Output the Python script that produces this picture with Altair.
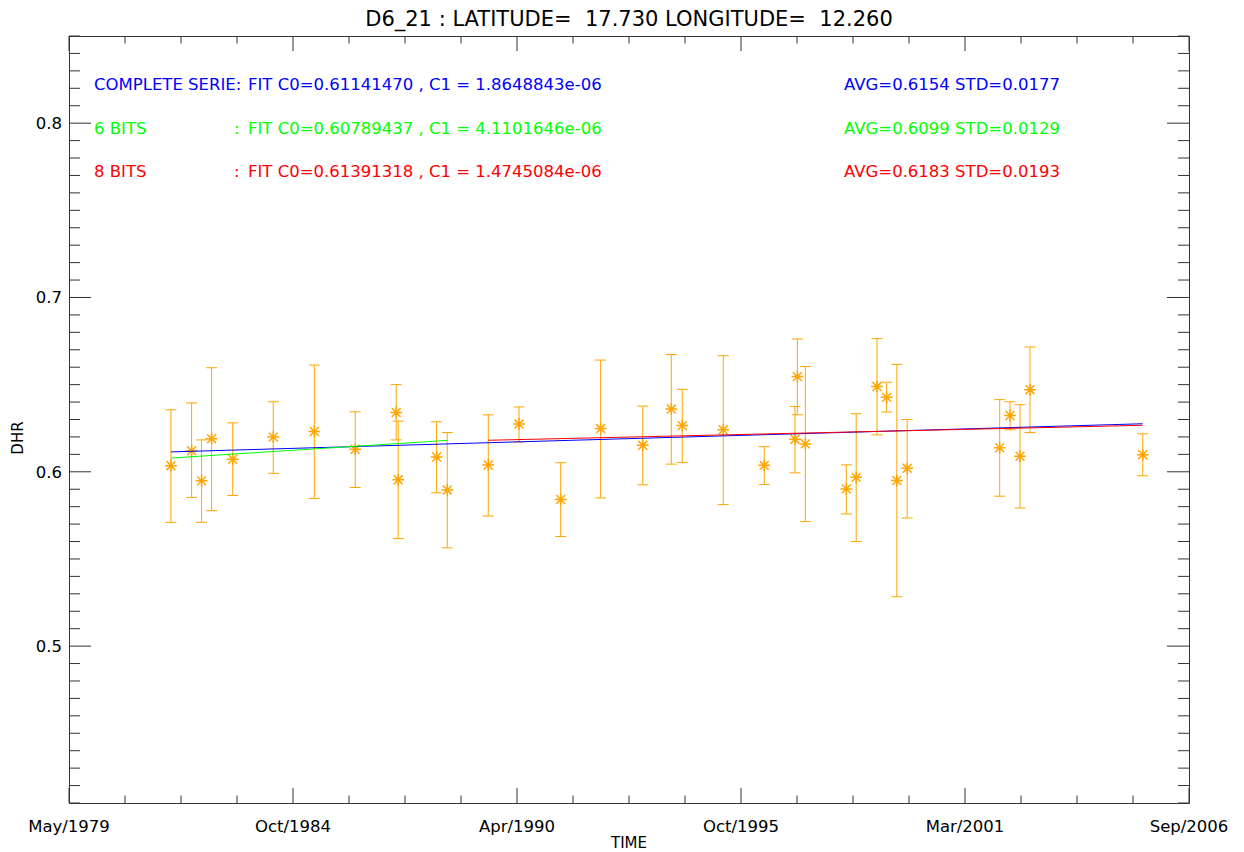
import altair as alt
import numpy as np
import pandas as pd

# ---------------- data ----------------
dates = ["1981-11-07", "1982-05-10", "1982-08-07", "1982-11-04", "1983-05-11",
         "1984-05-06", "1985-05-07", "1986-05-06", "1987-05-06", "1987-05-24",
         "1988-04-30", "1988-08-03", "1989-08-03", "1990-05-04", "1991-05-10",
         "1992-04-30", "1993-05-10", "1994-01-19", "1994-04-27", "1995-04-27",
         "1996-04-26", "1997-01-25", "1997-02-15", "1997-04-27", "1998-04-27",
         "1998-07-24", "1999-01-25", "1999-04-21", "1999-07-21", "1999-10-21",
         "2002-01-22", "2002-04-24", "2002-07-22", "2002-10-19", "2005-07-19"]
dhr = [0.6035, 0.6121, 0.5948, 0.6190, 0.6072,
       0.6199, 0.6231, 0.6129, 0.6340, 0.5954,
       0.6085, 0.5896, 0.6039, 0.6274, 0.5841,
       0.6248, 0.6152, 0.6360, 0.6265, 0.6241,
       0.6037, 0.6187, 0.6546, 0.6160, 0.5902,
       0.5968, 0.6489, 0.6427, 0.5950, 0.6020,
       0.6138, 0.6323, 0.6089, 0.6471, 0.6098]
dhr_low = [0.5710, 0.5852, 0.5710, 0.5777, 0.5864,
           0.5991, 0.5847, 0.5910, 0.6183, 0.5617,
           0.5879, 0.5564, 0.5746, 0.6171, 0.5629,
           0.5850, 0.5925, 0.6044, 0.6054, 0.5812,
           0.5927, 0.5994, 0.6327, 0.5714, 0.5758,
           0.5600, 0.6212, 0.6343, 0.5283, 0.5735,
           0.5860, 0.6241, 0.5792, 0.6225, 0.5977]
dhr_high = [0.6356, 0.6395, 0.6183, 0.6597, 0.6281,
            0.6402, 0.6612, 0.6344, 0.6500, 0.6291,
            0.6287, 0.6225, 0.6327, 0.6372, 0.6052,
            0.6641, 0.6377, 0.6673, 0.6473, 0.6666,
            0.6144, 0.6375, 0.6762, 0.6604, 0.6040,
            0.6333, 0.6764, 0.6514, 0.6616, 0.6300,
            0.6414, 0.6402, 0.6385, 0.6716, 0.6218]
n_6bits = 12  # first acquisitions are 6-bit, the rest 8-bit

fit_names = ["COMPLETE SERIE", "6 BITS", "8 BITS"]
fit_c0 = [0.61141470, 0.60789437, 0.61391318]
fit_c1 = [1.8648843e-06, 4.1101646e-06, 1.4745084e-06]   # per day
fit_avg = [0.6154, 0.6099, 0.6183]
fit_std = [0.0177, 0.0129, 0.0193]
fit_colors = ["#0000ff", "#00ff00", "#ff0000"]

title_text = "D6_21 : LATITUDE=\u00a0\u00a017.730 LONGITUDE=\u00a0\u00a012.260"
x_title = "TIME"
y_title = "DHR"
x_start = "1979-05-14"
x_step_days = 1995           # IDL: 5 major intervals
y_domain = [0.41, 0.85]
y_labels = [0.5, 0.6, 0.7, 0.8]

# ---------------- styling ----------------
FONT = "DejaVu Sans"
ORANGE = "#ffa500"
AX = "#333333"
W, H = 1120, 767


def ms(ts):
    return int(pd.Timestamp(ts).value // 10**6)


t_ms = [ms(d) for d in dates]
S = pd.Timestamp(x_start)
x_major_ts = [S + pd.Timedelta(days=k * x_step_days) for k in range(6)]
x_major = [ms(t) for t in x_major_ts]
x_major_lab = [t.strftime("%b/%Y") for t in x_major_ts]
x_minor = [ms(S + pd.Timedelta(days=k * x_step_days / 4)) for k in range(21) if k % 4]

xscale = alt.Scale(type="utc", domain=[x_major[0], x_major[-1]])
yscale = alt.Scale(domain=y_domain, nice=False, zero=False)


def X(f):
    return alt.X(f"{f}:T", scale=xscale, axis=None)


def Y(f):
    return alt.Y(f"{f}:Q", scale=yscale, axis=None)


pts = pd.DataFrame({"t": t_ms, "dhr": dhr, "lo": dhr_low, "hi": dhr_high})

bars = alt.Chart(pts).mark_rule(color=ORANGE, strokeWidth=1).encode(
    x=X("t"), y=Y("lo"), y2="hi:Q")
cap_lo = alt.Chart(pts).mark_rule(color=ORANGE, strokeWidth=1, xOffset=-5.5, x2Offset=5.5).encode(
    x=X("t"), x2="t:T", y=Y("lo"))
cap_hi = alt.Chart(pts).mark_rule(color=ORANGE, strokeWidth=1, xOffset=-5.5, x2Offset=5.5).encode(
    x=X("t"), x2="t:T", y=Y("hi"))

star_path = "M-1,0L1,0M0,-1L0,1M-0.75,-0.75L0.75,0.75M-0.75,0.75L0.75,-0.75"
stars = alt.Chart(pts).mark_point(shape=star_path, filled=False, color=ORANGE, size=140,
                                  strokeWidth=1.5, opacity=1).encode(x=X("t"), y=Y("dhr"))

# fit lines from the printed coefficients (time origin = first acquisition)
segments = [(0, len(dates) - 1), (0, n_6bits - 1), (n_6bits, len(dates) - 1)]
t0 = pd.Timestamp(dates[0])
rows = []
for name, c0, c1, (a, b) in zip(fit_names, fit_c0, fit_c1, segments):
    da = (pd.Timestamp(dates[a]) - t0).days
    db = (pd.Timestamp(dates[b]) - t0).days
    rows.append({"name": name, "ta": t_ms[a], "tb": t_ms[b],
                 "va": c0 + c1 * da, "vb": c0 + c1 * db})
fits = pd.DataFrame(rows)
fit_lines = alt.Chart(fits).mark_rule(strokeWidth=1).encode(
    x=X("ta"), x2="tb:T", y=Y("va"), y2="vb:Q",
    color=alt.Color("name:N", scale=alt.Scale(domain=fit_names, range=fit_colors), legend=None))

# IDL-style box ticks on all four sides
yt = np.round(np.arange(41, 86) / 100.0, 2)
y_major_t = [float(v) for v in yt if int(round(v * 100)) % 10 == 0]
y_minor_t = [float(v) for v in yt if int(round(v * 100)) % 10 != 0]


def yticks(vals, xa, xb):
    return alt.Chart(pd.DataFrame({"v": vals})).mark_rule(color=AX, strokeWidth=1).encode(
        y=Y("v"), x=alt.value(xa), x2=alt.value(xb))


def xticks(vals, ya, yb):
    return alt.Chart(pd.DataFrame({"t": vals})).mark_rule(color=AX, strokeWidth=1).encode(
        x=X("t"), y=alt.value(ya), y2=alt.value(yb))


ticks = [
    yticks(y_major_t, 0, 22), yticks(y_minor_t, 0, 11),
    yticks(y_major_t, W, W - 22), yticks(y_minor_t, W, W - 11),
    xticks(x_major, H, H - 15), xticks(x_minor, H, H - 7.5),
    xticks(x_major, 0, 15), xticks(x_minor, 0, 7.5),
]

# tick labels placed through the scales
x_lab_layer = alt.Chart(pd.DataFrame({"t": x_major, "lab": x_major_lab})).mark_text(
    font=FONT, fontSize=16.5, color="#000000", align="center", baseline="middle").encode(
    x=X("t"), y=alt.value(H + 24), text="lab:N")
y_lab_layer = alt.Chart(pd.DataFrame({"v": y_labels, "lab": [f"{v:.1f}" for v in y_labels]})).mark_text(
    font=FONT, fontSize=16.5, color="#000000", align="right", baseline="middle").encode(
    y=Y("v"), x=alt.value(-7), text="lab:N", yOffset=alt.value(1))


def label(txt, x, y, color, size=16.5, align="left", angle=0):
    return alt.Chart(pd.DataFrame({"s": [txt]})).mark_text(
        font=FONT, fontSize=size, color=color, align=align, baseline="middle", angle=angle).encode(
        text="s:N", x=alt.value(x), y=alt.value(y))


texts = [
    label(title_text, W / 2, -16, "#000000", size=21, align="center"),
    label(x_title, W / 2, H + 40, "#000000", size=15, align="center"),
    label(y_title, -51.5, 402, "#000000", size=15, align="center", angle=270),
]
row_y = [49, 93, 136]
for i, (name, c0, c1, avg, sd, col) in enumerate(zip(fit_names, fit_c0, fit_c1, fit_avg, fit_std, fit_colors)):
    if i == 0:
        texts.append(label(name + ":", 25, row_y[i], col))
    else:
        texts.append(label(name, 25, row_y[i], col))
        texts.append(label(":", 165, row_y[i], col))
    texts.append(label(f"FIT C0={c0:.8f} , C1 = {c1:.7e}", 179, row_y[i], col))
    texts.append(label(f"AVG={avg:.4f} STD={sd:.4f}", 775, row_y[i], col))

chart = alt.layer(bars, cap_lo, cap_hi, stars, fit_lines, *ticks,
                  x_lab_layer, y_lab_layer, *texts).properties(
    width=W, height=H,
    autosize=alt.AutoSizeParams(type="none"),
    padding={"left": 61, "top": 28, "right": 47, "bottom": 48},
    background="white",
).configure_view(stroke=AX, strokeWidth=1)

chart.save("out.html", embed_options={"renderer": "svg", "actions": False})
